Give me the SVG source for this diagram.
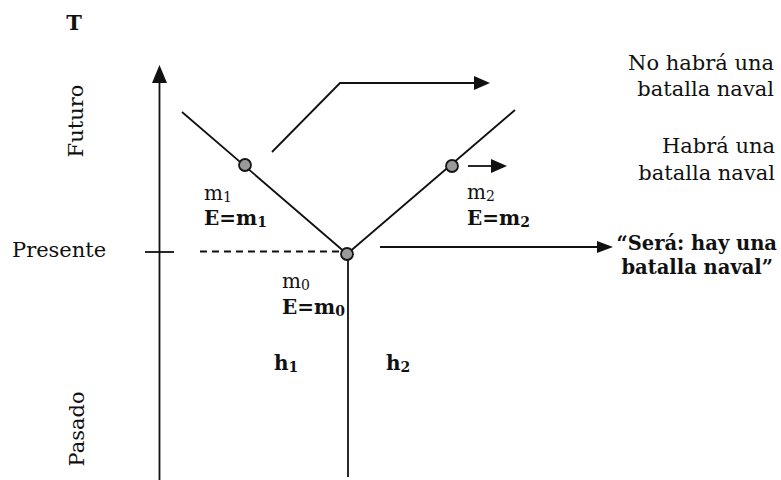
<svg xmlns="http://www.w3.org/2000/svg" width="781" height="480" viewBox="0 0 781 480">
<style>
text{font-family:"DejaVu Serif","Liberation Serif",serif;fill:#111;}
.lbl{font-size:21px;}
.sm{font-size:20px;}
.b{font-weight:bold;}
.bl{font-size:19.5px;font-weight:bold;}
.ln{stroke:#111;fill:none;stroke-width:1.8;}
.node{fill:#9a9a9a;stroke:#151515;stroke-width:1.8;}
</style>
<defs>
<marker id="ah" viewBox="0 0 16 14" refX="2" refY="7" markerWidth="16" markerHeight="14" markerUnits="userSpaceOnUse" orient="auto"><path d="M0,0 L16,7 L0,14 Z" fill="#111"/></marker>
<marker id="ahn" viewBox="0 0 16 12" refX="2" refY="6" markerWidth="16" markerHeight="12" markerUnits="userSpaceOnUse" orient="auto"><path d="M0,0 L16,6 L0,12 Z" fill="#111"/></marker>
<marker id="ahb" viewBox="0 0 18 15" refX="3" refY="7.5" markerWidth="18" markerHeight="15" markerUnits="userSpaceOnUse" orient="auto"><path d="M0,0 L18,7.5 L0,15 Z" fill="#111"/></marker>
</defs>
<g id="connectors">
<path class="ln" d="M159.5,480 L159.5,80" stroke-width="3" marker-end="url(#ahb)"/>
<path class="ln" d="M145,252 L174,252" stroke-width="2"/>
<path class="ln" d="M200,251.5 L339,251.5" stroke-dasharray="7 5"/>
<path class="ln" d="M182,112 L347,254 L515,110"/>
<path class="ln" d="M348,258 L348,477" stroke-width="2"/>
<path class="ln" d="M272,152 L340,83 L476,83" marker-end="url(#ah)"/>
<path class="ln" d="M468,166 L493,166" marker-end="url(#ah)"/>
<path class="ln" d="M380,247 L599,247" marker-end="url(#ahn)"/>
</g>
<g id="axis-labels">
<text class="lbl b" x="74" y="30" text-anchor="middle">T</text>
<text class="lbl" transform="translate(83,121) rotate(-90)" text-anchor="middle">Futuro</text>
<text class="lbl" transform="translate(84,429) rotate(-90)" text-anchor="middle">Pasado</text>
<text class="lbl" x="12" y="257">Presente</text>
</g>
<g id="node-m1">
<circle class="node" cx="245" cy="165" r="6"/>
<text class="sm" x="204" y="200">m<tspan font-size="14" dy="2">1</tspan></text>
<text class="sm b" x="204" y="225">E=m<tspan font-size="14" dy="2">1</tspan></text>
</g>
<g id="node-m2">
<circle class="node" cx="452" cy="166" r="6"/>
<text class="sm" x="467" y="199">m<tspan font-size="14" dy="2">2</tspan></text>
<text class="sm b" x="467" y="225">E=m<tspan font-size="14" dy="2">2</tspan></text>
</g>
<g id="node-m0">
<circle class="node" cx="347" cy="254" r="6"/>
<text class="sm" x="282" y="288">m<tspan font-size="14" dy="2">0</tspan></text>
<text class="sm b" x="282" y="314">E=m<tspan font-size="14" dy="2">0</tspan></text>
</g>
<g id="history-labels">
<text class="sm b" x="274" y="370">h<tspan font-size="14" dy="2">1</tspan></text>
<text class="sm b" x="386" y="370">h<tspan font-size="14" dy="2">2</tspan></text>
</g>
<g id="outcome-no">
<text class="lbl" x="774" y="70" text-anchor="end">No habrá una</text>
<text class="lbl" x="774" y="96" text-anchor="end">batalla naval</text>
</g>
<g id="outcome-si">
<text class="lbl" x="775" y="153" text-anchor="end">Habrá una</text>
<text class="lbl" x="775" y="180" text-anchor="end">batalla naval</text>
</g>
<g id="outcome-sera">
<text class="bl" x="777" y="250" text-anchor="end">“Será: hay una</text>
<text class="bl" x="773" y="274" text-anchor="end">batalla naval”</text>
</g>
</svg>
